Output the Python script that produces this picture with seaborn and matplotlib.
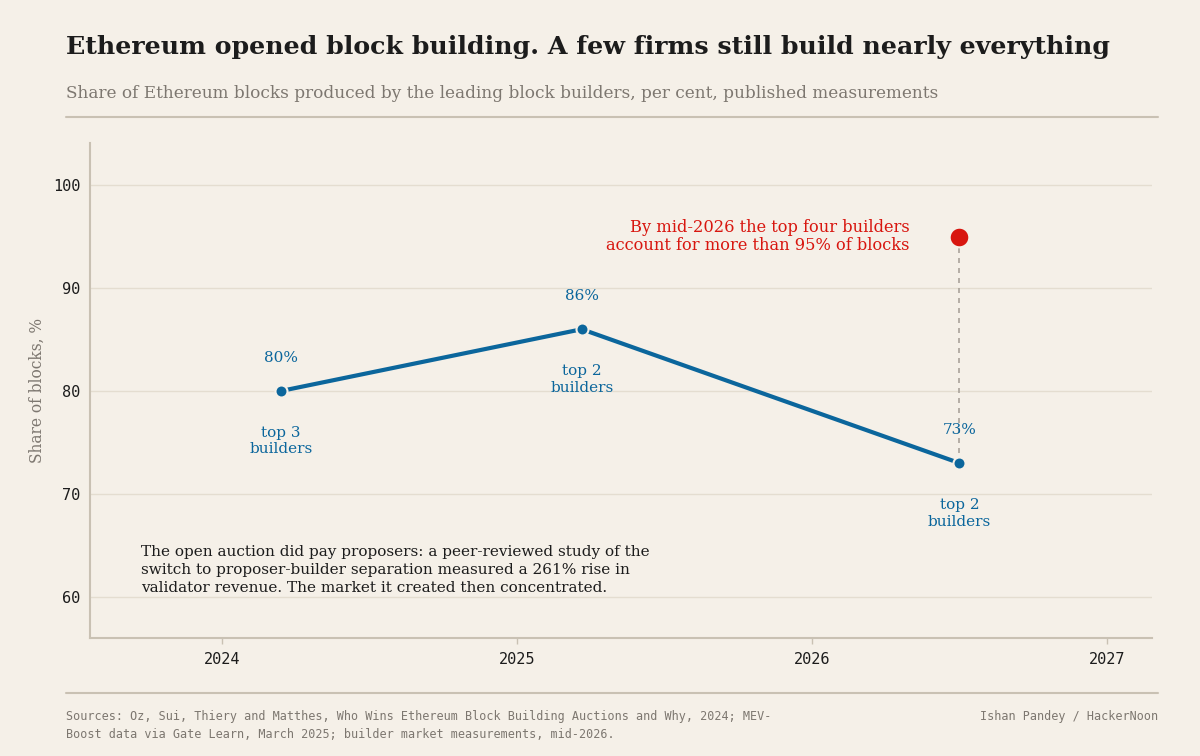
import numpy as np
import pandas as pd
import seaborn as sns
import matplotlib.pyplot as plt

# --- Data ---
years = [2024.2, 2025.22, 2026.5]
share = [80, 86, 73]
value_labels = ["80%", "86%", "73%"]
group_labels = ["top 3\nbuilders", "top 2\nbuilders", "top 2\nbuilders"]
top4_year = 2026.5
top4_share = 95
x_ticks = [2024, 2025, 2026, 2027]
y_ticks = [60, 70, 80, 90, 100]

BG = "#f5f0e8"
BLUE = "#0b669c"
RED = "#d8160f"
INK = "#1c1c1c"
GREY = "#7d7770"
RULE = "#c9c1b3"
GRID = "#e4ddd0"
SERIF = ["DejaVu Serif"]
MONO = ["DejaVu Sans Mono"]

sns.set_style("white")
plt.rcParams["font.family"] = SERIF

df = pd.DataFrame({"year": years, "share": share})

fig = plt.figure(figsize=(12, 7.56), dpi=100, facecolor=BG)
ax = fig.add_axes([0.075, 0.156, 0.885, 0.655], facecolor=BG)

# dashed connector from 73% point up to the red dot
ax.plot([top4_year, top4_year], [share[2], top4_share], ls=(0, (3, 3)), color="#aaa39a", lw=1.2, zorder=1)

sns.lineplot(data=df, x="year", y="share", ax=ax, color=BLUE, lw=3, zorder=3)
sns.scatterplot(data=df, x="year", y="share", ax=ax, color=BLUE, s=75, edgecolor=BG, linewidth=1.5, zorder=4)
ax.scatter([top4_year], [top4_share], s=200, color=RED, edgecolor=BG, linewidth=1.5, zorder=5)

for x, y, v, g in zip(years, share, value_labels, group_labels):
    ax.annotate(v, (x, y), xytext=(0, 19), textcoords="offset points", ha="center", va="bottom",
                color=BLUE, fontsize=11, family=SERIF)
    ax.annotate(g, (x, y), xytext=(0, -25), textcoords="offset points", ha="center", va="top",
                color=BLUE, fontsize=11, family=SERIF, linespacing=1.25)

ax.annotate("By mid-2026 the top four builders\naccount for more than 95% of blocks",
            (top4_year, top4_share), xytext=(-36, 0), textcoords="offset points",
            ha="right", va="center", color=RED, fontsize=11.7, linespacing=1.1)

ax.text(2023.725, 60.15, "The open auction did pay proposers: a peer-reviewed study of the\n"
        "switch to proposer-builder separation measured a 261% rise in\n"
        "validator revenue. The market it created then concentrated.",
        ha="left", va="bottom", color=INK, fontsize=10.95, linespacing=1.36)

ax.set_xlim(2023.553, 2027.153)
ax.set_ylim(56, 104.1)
ax.set_xticks(x_ticks)
ax.set_yticks(y_ticks)
ax.set_xticklabels([str(t) for t in x_ticks], family=MONO, fontsize=11, color=INK)
ax.set_yticklabels([str(t) for t in y_ticks], family=MONO, fontsize=11, color=INK)
ax.tick_params(axis="x", length=4, width=1, color=RULE, pad=6, direction="out", bottom=True)
ax.tick_params(axis="y", length=0, pad=7)
ax.grid(axis="y", color=GRID, lw=1)
ax.set_axisbelow(True)
ax.set_xlabel("")
ax.set_ylabel("Share of blocks, %", color=GREY, fontsize=11.2, labelpad=5)
for side in ["top", "right"]:
    ax.spines[side].set_visible(False)
for side in ["left", "bottom"]:
    ax.spines[side].set_color(RULE)
    ax.spines[side].set_linewidth(1.5)

# header and footer
fig.text(66 / 1200, 1 - 47 / 756, "Ethereum opened block building. A few firms still build nearly everything",
         ha="left", va="center", color=INK, fontsize=18.2, fontweight="bold")
fig.text(66 / 1200, 1 - 93 / 756, "Share of Ethereum blocks produced by the leading block builders, per cent, published measurements",
         ha="left", va="center", color=GREY, fontsize=12.15)
fig.add_artist(plt.Line2D([66 / 1200, 1158 / 1200], [1 - 117 / 756] * 2, color=RULE, lw=1.5))
fig.add_artist(plt.Line2D([66 / 1200, 1158 / 1200], [1 - 693 / 756] * 2, color=RULE, lw=1.5))
fig.text(66 / 1200, 1 - 710 / 756,
         "Sources: Oz, Sui, Thiery and Matthes, Who Wins Ethereum Block Building Auctions and Why, 2024; MEV-\n"
         "Boost data via Gate Learn, March 2025; builder market measurements, mid-2026.",
         ha="left", va="top", color=GREY, fontsize=8.5, family=MONO, linespacing=1.5)
fig.text(1158 / 1200, 1 - 710 / 756, "Ishan Pandey / HackerNoon",
         ha="right", va="top", color=GREY, fontsize=8.5, family=MONO)

fig.savefig("out.png", dpi=100, facecolor=BG)
